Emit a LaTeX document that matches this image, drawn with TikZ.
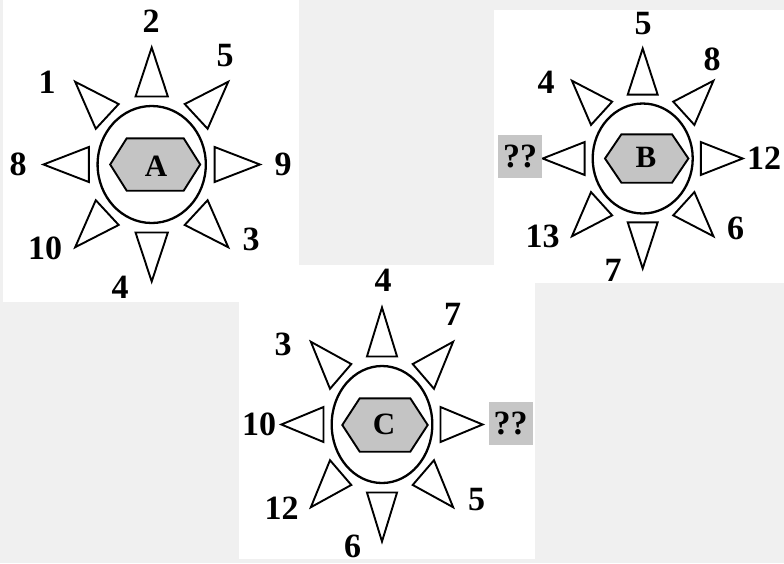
\documentclass[tikz,border=0pt]{standalone}
\usepackage{fontspec}
\setmainfont{Liberation Serif}
\definecolor{bgray}{HTML}{F0F0F0}
\definecolor{hexfill}{HTML}{C4C4C4}
\definecolor{qfill}{HTML}{C6C6C6}
\newcommand\mysun[4]{%
\begin{scope}[shift={(#1,#2)}, xscale=#3, yscale=#4]
 \foreach \a in {0,45,...,315} {
   \draw[ray] ({68*cos(\a)-17.5*sin(\a)},{68*sin(\a)+17.5*cos(\a)}) -- ({117*cos(\a)},{117*sin(\a)}) -- ({68*cos(\a)+17.5*sin(\a)},{68*sin(\a)-17.5*cos(\a)}) -- cycle;
 }
 \draw[ring] (0,0) circle (58.5);
\end{scope}}
\newcommand\myhex[5]{% cx cy hw tw hh
 \draw[hexa] ({#1-#3},#2) -- ({#1-#4},{#2-#5}) -- ({#1+#4},{#2-#5}) -- ({#1+#3},#2) -- ({#1+#4},{#2+#5}) -- ({#1-#4},{#2+#5}) -- cycle;}
\begin{document}
\begin{tikzpicture}[x=1pt,y=-1pt,
  ray/.style={draw=black, fill=white, line width=1.9pt, line join=miter},
  ring/.style={draw=black, fill=white, line width=2.3pt},
  hexa/.style={draw=black, fill=hexfill, line width=1.9pt, line join=miter},
  num/.style={font=\fontsize{34}{34}\selectfont\bfseries, inner sep=0pt},
  letter/.style={font=\fontsize{31}{31}\selectfont\bfseries, inner sep=0pt},
  qbox/.style={fill=qfill, minimum width=44pt, minimum height=43pt, inner sep=0pt, font=\fontsize{34}{34}\selectfont\bfseries},
  panel/.style={fill=white}]
\fill[bgray] (0,0) rectangle (784,563);
\useasboundingbox (0,0) rectangle (784,563);
% panels
\fill[panel] (3,0) rectangle (299,302);
\fill[panel] (494,10) rectangle (784,283);
\fill[panel] (239,265) rectangle (535,559);
% sun A
\mysun{151.7}{164.5}{0.925}{1.0}
\myhex{155.2}{164.5}{45}{28.5}{26.2}
\node[letter] (la) at (156,166) {A};
\node[num] (a2) at (151,21) {2};
\node[num] (a5) at (225,56) {5};
\node[num] (a1) at (47,82) {1};
\node[num] (a8) at (18,164) {8};
\node[num] (a9) at (283,164) {9};
\node[num] (a10) at (45,248) {10};
\node[num] (a3) at (251,239) {3};
\node[num] (a4) at (120,287) {4};
% sun B
\mysun{642.7}{158.5}{0.855}{0.94}
\myhex{646.7}{158.5}{41.7}{25.3}{24.2}
\node[letter] (lb) at (646,157.5) {B};
\node[num] (b5) at (643,24) {5};
\node[num] (b8) at (712,59) {8};
\node[num] (b4) at (546,82) {4};
\node[qbox] (bq) at (520,156.5) {??};
\node[num] (b12) at (764,158) {12};
\node[num] (b13) at (542.5,236.5) {13};
\node[num] (b6) at (735.5,228) {6};
\node[num] (b7) at (613,270) {7};
% sun C
\mysun{382}{424.5}{0.86}{1.0}
\myhex{385}{425}{42.7}{25.3}{26.7}
\node[letter] (lc) at (384,424) {C};
\node[num] (c4) at (383,280) {4};
\node[num] (c7) at (452.5,314) {7};
\node[num] (c3) at (283,344) {3};
\node[num] (c10) at (259,424) {10};
\node[qbox] (cq) at (510.5,423) {??};
\node[num] (c12) at (281.7,508) {12};
\node[num] (c5) at (476.5,500) {5};
\node[num] (c6) at (352.5,546) {6};
\end{tikzpicture}
\end{document}
